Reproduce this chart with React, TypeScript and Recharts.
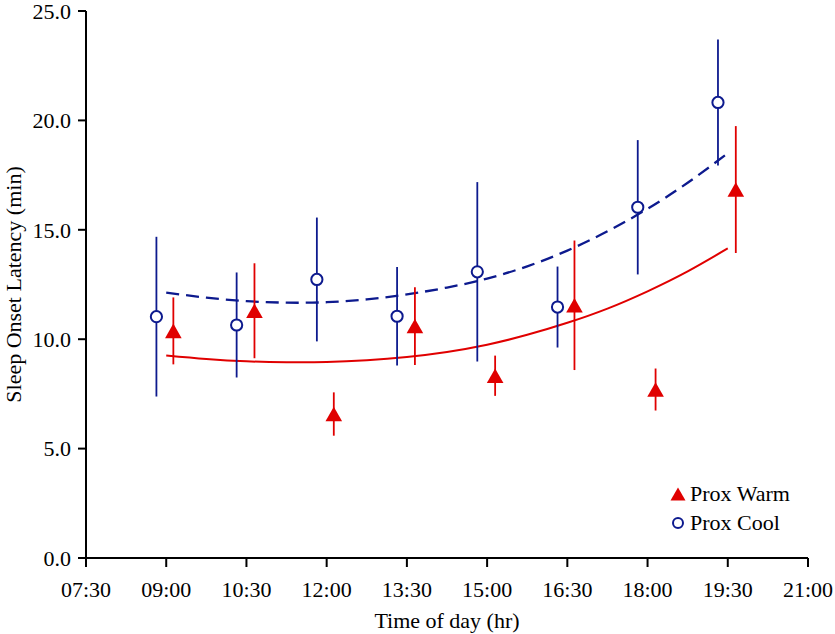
import React from "react";
import {
  ComposedChart,
  XAxis,
  YAxis,
  Scatter,
  Line,
  ErrorBar,
} from "recharts";

// ---- data (times in minutes since midnight) ----
const xTicks = [450, 540, 630, 720, 810, 900, 990, 1080, 1170, 1260];
const yTicks = [0, 5, 10, 15, 20, 25];

const warmTimes = [548, 639, 728, 819, 909, 998, 1089, 1179];
const warmMeans = [10.38, 11.3, 6.58, 10.6, 8.33, 11.55, 7.7, 16.84];
const warmErr = [1.53, 2.17, 0.99, 1.78, 0.92, 2.96, 0.96, 2.9];

const coolTimes = [529, 619, 709, 799, 889, 979, 1069, 1159];
const coolMeans = [11.03, 10.65, 12.73, 11.05, 13.08, 11.47, 16.03, 20.82];
const coolErr = [3.65, 2.4, 2.83, 2.25, 4.1, 1.85, 3.07, 2.88];

const fitTimes = [540, 585, 630, 675, 720, 765, 810, 855, 900, 945, 990, 1035, 1080, 1125, 1170];
const warmFit = [9.26, 9.1, 8.99, 8.95, 8.96, 9.04, 9.19, 9.42, 9.75, 10.2, 10.75, 11.4, 12.19, 13.1, 14.15];
const coolFit = [12.13, 11.9, 11.74, 11.67, 11.69, 11.82, 12.05, 12.36, 12.77, 13.33, 14.05, 14.93, 15.96, 17.15, 18.5];

const seriesNames = ["Prox Warm", "Prox Cool"];

const warmData = warmTimes.map((t, i) => ({ t, v: warmMeans[i], err: warmErr[i] }));
const coolData = coolTimes.map((t, i) => ({ t, v: coolMeans[i], err: coolErr[i] }));
const warmFitData = fitTimes.map((t, i) => ({ t, v: warmFit[i] }));
const coolFitData = fitTimes.map((t, i) => ({ t, v: coolFit[i] }));

const RED = "#e00000";
const BLUE = "#0d1a8e";
const FONT = "'Liberation Serif', 'Times New Roman', serif";

const fmtTime = (m: number) => {
  const h = Math.floor(m / 60);
  const mm = m % 60;
  return `${String(h).padStart(2, "0")}:${String(mm).padStart(2, "0")}`;
};

const TriangleShape = (props: any) => {
  const { cx, cy } = props;
  if (cx == null || cy == null) return null;
  const hw = 8.3;
  const hh = 7.3;
  return (
    <polygon
      points={`${cx},${cy - hh} ${cx - hw},${cy + hh} ${cx + hw},${cy + hh}`}
      fill={RED}
      stroke="none"
    />
  );
};

const CircleShape = (props: any) => {
  const { cx, cy } = props;
  if (cx == null || cy == null) return null;
  return <circle cx={cx} cy={cy} r={5.6} fill="#fff" stroke={BLUE} strokeWidth={2} />;
};

const LegendBox = () => (
  <div
    style={{
      position: "absolute",
      left: 669,
      top: 480,
      fontFamily: FONT,
      fontSize: 22,
      color: "#000",
      lineHeight: "28.5px",
    }}
  >
    {seriesNames.map((name, i) => (
      <div key={name} style={{ display: "flex", alignItems: "center", whiteSpace: "nowrap" }}>
        <svg width={18} height={18} style={{ marginRight: 3 }}>
          {i === 0 ? (
            <polygon points="9,2.5 1.5,15.5 16.5,15.5" fill={RED} />
          ) : (
            <circle cx={9} cy={9} r={5} fill="#fff" stroke={BLUE} strokeWidth={2} />
          )}
        </svg>
        <span>{name}</span>
      </div>
    ))}
  </div>
);

const YLabel = (props: any) => {
  const vb = props.viewBox || {};
  const cx = 13;
  const cy = (vb.y ?? 11) + (vb.height ?? 547) / 2;
  return (
    <text
      x={cx}
      y={cy}
      transform={`rotate(-90 ${cx} ${cy})`}
      textAnchor="middle"
      dominantBaseline="central"
      fontFamily={FONT}
      fontSize={22}
      fill="#000"
    >
      Sleep Onset Latency (min)
    </text>
  );
};

export default function App() {
  return (
    <div style={{ position: "absolute", left: 0, top: 0, width: 835, height: 634, background: "#fff" }}>
      <ComposedChart width={835} height={634} margin={{ top: 11, right: 27, bottom: 0, left: 0 }}>
        <XAxis
          type="number"
          dataKey="t"
          domain={[450, 1260]}
          ticks={xTicks}
          tickFormatter={fmtTime}
          interval={0}
          height={76}
          tickSize={9}
          tickMargin={14}
          axisLine={{ stroke: "#000", strokeWidth: 2 }}
          tickLine={{ stroke: "#000", strokeWidth: 2 }}
          tick={{ fill: "#000", fontFamily: FONT, fontSize: 22 }}
          label={{
            value: "Time of day (hr)",
            position: "insideBottom",
            offset: 6,
            fill: "#000",
            fontFamily: FONT,
            fontSize: 22,
          }}
        />
        <YAxis
          type="number"
          domain={[0, 25]}
          ticks={yTicks}
          tickFormatter={(v: number) => v.toFixed(1)}
          interval={0}
          width={86}
          tickSize={8}
          tickMargin={7}
          axisLine={{ stroke: "#000", strokeWidth: 2 }}
          tickLine={{ stroke: "#000", strokeWidth: 2 }}
          tick={{ fill: "#000", fontFamily: FONT, fontSize: 22 }}
          label={<YLabel />}
        />
        <Line
          data={warmFitData}
          dataKey="v"
          type="natural"
          stroke={RED}
          strokeWidth={2}
          dot={false}
          activeDot={false}
          legendType="none"
          isAnimationActive={false}
        />
        <Line
          data={coolFitData}
          dataKey="v"
          type="natural"
          stroke={BLUE}
          strokeWidth={2.3}
          strokeDasharray="13 7"
          dot={false}
          activeDot={false}
          legendType="none"
          isAnimationActive={false}
        />
        <Scatter
          name={seriesNames[1]}
          data={coolData}
          dataKey="v"
          shape={<CircleShape />}
          isAnimationActive={false}
        >
          <ErrorBar dataKey="err" direction="y" width={0} stroke={BLUE} strokeWidth={1.8} />
        </Scatter>
        <Scatter
          name={seriesNames[0]}
          data={warmData}
          dataKey="v"
          shape={<TriangleShape />}
          isAnimationActive={false}
        >
          <ErrorBar dataKey="err" direction="y" width={0} stroke={RED} strokeWidth={1.8} />
        </Scatter>
      </ComposedChart>
      <LegendBox />
    </div>
  );
}
